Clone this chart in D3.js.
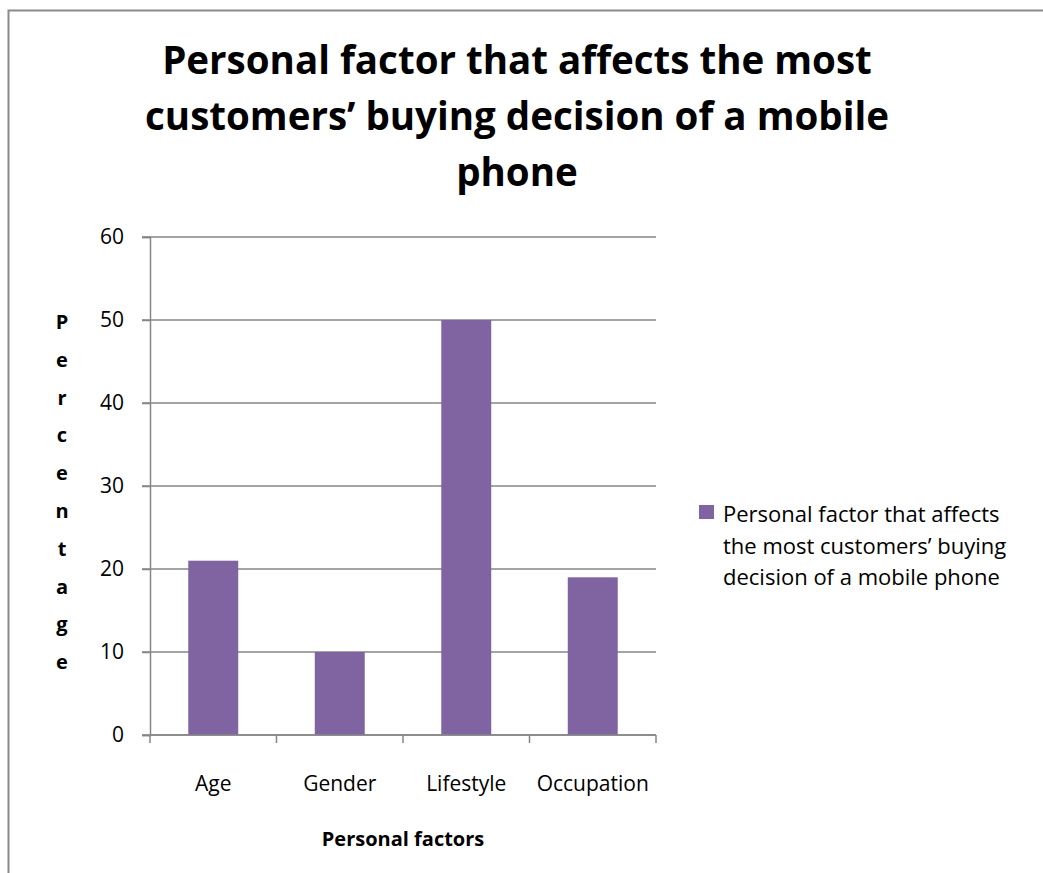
<!DOCTYPE html>
<html>
<head>
<meta charset="utf-8">
<script src="https://cdn.jsdelivr.net/npm/d3@7"></script>
<style>
  body { margin: 0; background: #fff; }
  svg { display: block; font-family: "Open Sans", Lato, sans-serif; }
</style>
</head>
<body>
<div id="svg-container"></div>
<script>
// Data.
const categories = ['Age', 'Gender', 'Lifestyle', 'Occupation'];
const percentages = [21, 10, 50, 19];
const yTicks = [0, 10, 20, 30, 40, 50, 60];
const titleLines = ['Personal factor that affects the most', 'customers\u2019 buying decision of a mobile', 'phone'];
const legendLines = ['Personal factor that affects', 'the most customers\u2019 buying', 'decision of a mobile phone'];
const yLabel = 'Percentage';
const xLabel = 'Personal factors';

const width = 1043;
const height = 873;
const plot = { left: 150, right: 656, top: 237, bottom: 735 };
const barColor = '#8064A2';
const gridColor = '#868686';

const svg = d3.select('div#svg-container')
  .append('svg')
  .attr('width', width)
  .attr('height', height);

// Chart frame (runs off the right and bottom edge).
svg.append('rect')
  .attr('x', 8.5)
  .attr('y', 10.5)
  .attr('width', 1100)
  .attr('height', 900)
  .attr('fill', '#fff')
  .attr('stroke', '#8a8a8a')
  .attr('stroke-width', 2);

// Title.
const title = svg.append('text')
  .attr('text-anchor', 'middle')
  .style('font-size', '40px')
  .style('font-weight', 'bold');
title.selectAll('tspan')
  .data(titleLines)
  .enter()
  .append('tspan')
  .attr('x', 517)
  .attr('y', (d, i) => 74 + i * 56)
  .text((d) => d);

// Shrink the title so its first line spans roughly 710px, like the original.
const firstLine = title.select('tspan').node().getComputedTextLength();
title.style('font-size', (40 * 710 / firstLine) + 'px');

// Scales.
const xScale = d3.scaleBand()
  .domain(categories)
  .range([plot.left, plot.right])
  .paddingInner(0.605)
  .paddingOuter(0.3025);

const yScale = d3.scaleLinear()
  .domain([0, 60])
  .range([plot.bottom, plot.top]);

// Gridlines.
svg.append('g')
  .selectAll('line')
  .data(yTicks)
  .enter()
  .append('line')
  .attr('x1', plot.left - 8)
  .attr('x2', plot.right)
  .attr('y1', (d) => yScale(d))
  .attr('y2', (d) => yScale(d))
  .attr('stroke', gridColor)
  .attr('stroke-width', 1.5);

// Bars.
svg.append('g')
  .selectAll('rect')
  .data(percentages)
  .enter()
  .append('rect')
  .attr('x', (d, i) => xScale(categories[i]))
  .attr('y', (d) => yScale(d))
  .attr('width', xScale.bandwidth())
  .attr('height', (d) => yScale(0) - yScale(d))
  .attr('fill', barColor);

// Y axis.
const yAxis = d3.axisLeft(yScale)
  .tickValues(yTicks)
  .tickSize(8)
  .tickPadding(18);

const yG = svg.append('g')
  .attr('transform', `translate(${plot.left},0)`)
  .call(yAxis);
yG.select('.domain').attr('stroke', gridColor).attr('stroke-width', 1.5);
yG.selectAll('.tick line').attr('stroke', gridColor).attr('stroke-width', 1.5);
yG.selectAll('.tick text')
  .attr('fill', '#000')
  .style('font-size', '21px')
  .style('font-family', '"Open Sans", sans-serif');

// X axis: ticks sit on category boundaries.
const step = xScale.step();
const boundaries = d3.range(categories.length + 1).map((i) => plot.left + i * step);
const xG = svg.append('g');
xG.append('line')
  .attr('x1', plot.left)
  .attr('x2', plot.right)
  .attr('y1', plot.bottom)
  .attr('y2', plot.bottom)
  .attr('stroke', gridColor)
  .attr('stroke-width', 1.5);
xG.selectAll('line.tick')
  .data(boundaries)
  .enter()
  .append('line')
  .attr('class', 'tick')
  .attr('x1', (d) => d)
  .attr('x2', (d) => d)
  .attr('y1', plot.bottom)
  .attr('y2', plot.bottom + 8)
  .attr('stroke', gridColor)
  .attr('stroke-width', 1.5);
xG.selectAll('text')
  .data(categories)
  .enter()
  .append('text')
  .attr('x', (d) => xScale(d) + xScale.bandwidth() / 2)
  .attr('y', 791)
  .attr('text-anchor', 'middle')
  .style('font-size', '21px')
  .text((d) => d);

// X axis title.
svg.append('text')
  .attr('x', (plot.left + plot.right) / 2)
  .attr('y', 846)
  .attr('text-anchor', 'middle')
  .style('font-size', '20px')
  .style('font-weight', 'bold')
  .text(xLabel);

// Y axis title, stacked letters.
svg.append('g')
  .selectAll('text')
  .data(yLabel.split(''))
  .enter()
  .append('text')
  .attr('x', 62)
  .attr('y', (d, i) => 329 + i * 37.8)
  .attr('text-anchor', 'middle')
  .style('font-size', '20px')
  .style('font-weight', 'bold')
  .text((d) => d);

// Legend.
const legend = svg.append('g');
legend.append('rect')
  .attr('x', 699)
  .attr('y', 505)
  .attr('width', 15)
  .attr('height', 14)
  .attr('fill', barColor);
legend.append('text')
  .style('font-size', '22px')
  .selectAll('tspan')
  .data(legendLines)
  .enter()
  .append('tspan')
  .attr('x', 723)
  .attr('y', (d, i) => 522 + i * 31.5)
  .text((d) => d);
</script>
</body>
</html>
